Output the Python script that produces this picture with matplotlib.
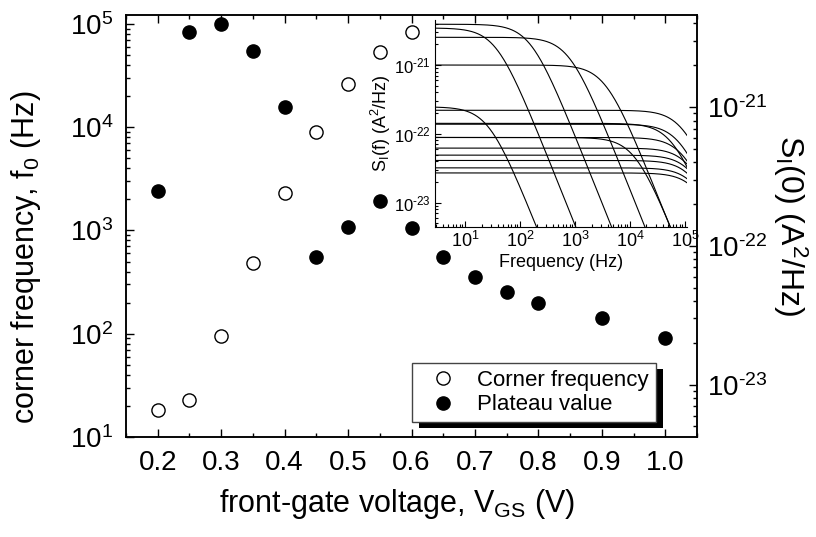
import matplotlib
matplotlib.use('Agg')
import matplotlib.pyplot as plt
from matplotlib.patches import Rectangle
from matplotlib.transforms import IdentityTransform
from matplotlib.ticker import LogLocator, MultipleLocator, NullFormatter, FuncFormatter
import numpy as np

plt.rcParams['font.family'] = ['Liberation Sans', 'DejaVu Sans']
plt.rcParams['mathtext.fontset'] = 'custom'
plt.rcParams['mathtext.rm'] = 'Liberation Sans'
plt.rcParams['mathtext.it'] = 'Liberation Sans'
plt.rcParams['mathtext.default'] = 'regular'

# main plot data: corner frequency (left axis) and plateau value (right axis)
vgs_corner = [0.2, 0.25, 0.3, 0.35, 0.4, 0.45, 0.5, 0.55, 0.6]
corner_freq = [18.3, 22.9, 95, 480, 2300, 8900, 26000, 53000, 84000]

vgs_plateau = [0.2, 0.25, 0.3, 0.35, 0.4, 0.45, 0.5, 0.55, 0.6, 0.65,
               0.7, 0.75, 0.8, 0.9, 1.0]
plateau = [2.49e-22, 3.47e-21, 3.95e-21, 2.53e-21, 1.0e-21, 8.3e-23,
           1.37e-22, 2.11e-22, 1.35e-22, 8.3e-23, 5.98e-23, 4.67e-23,
           3.89e-23, 3.03e-23, 2.18e-23]

# inset: Lorentzian fits, plateau S(0) and corner frequency of each curve
inset_s0 = [2.47e-22, 3.46e-21, 3.92e-21, 2.53e-21, 1.0e-21, 8.85e-23,
            1.42e-22, 2.2e-22, 1.38e-22, 8.85e-23, 6.2e-23, 4.9e-23,
            4.1e-23, 3.2e-23, 2.7e-23]
inset_f0 = [27, 37, 156, 785, 3600, 12500,
            60000, 95000, 85000, 100000, 130000, 145000,
            150000, 165000, 175000]


def pow10(v, pos):
    e = int(round(np.log10(v)))
    if e < 0:
        return '$10^{\u2010%d}$' % (-e)
    return '$10^{%d}$' % e


fig = plt.figure(figsize=(8.16, 5.37), dpi=100)
ax = fig.add_axes([0.1544, 0.1862, 0.6998, 0.7858])
ax2 = ax.twinx()

ms = 9.5
h1, = ax.plot(vgs_corner, corner_freq, 'o', ms=ms, mfc='white', mec='black',
              mew=1.0, label='Corner frequency', zorder=3)
h2, = ax2.plot(vgs_plateau, plateau, 'o', ms=ms, mfc='black', mec='black',
               label='Plateau value', zorder=3)

ax.set_xlim(0.15, 1.05)
ax.set_yscale('log')
ax.set_ylim(10, 1.22e5)
ax2.set_yscale('log')
ax2.set_ylim(4.2e-24, 4.6e-21)

xt = np.round(np.arange(0.2, 1.01, 0.1), 1)
ax.set_xticks(xt)
ax.set_xticklabels(['%.1f' % v for v in xt])
ax.xaxis.set_minor_locator(MultipleLocator(0.05))

ax.set_yticks([1e1, 1e2, 1e3, 1e4, 1e5])
ax2.set_yticks([1e-23, 1e-22, 1e-21])
for a in (ax, ax2):
    a.yaxis.set_major_formatter(FuncFormatter(pow10))
    a.yaxis.set_minor_locator(LogLocator(base=10, subs=np.arange(2, 10), numticks=20))
    a.yaxis.set_minor_formatter(NullFormatter())
    for s in a.spines.values():
        s.set_linewidth(1.1)

ax.tick_params(which='both', direction='in', top=True, right=False,
               labelsize=20, width=1.0, pad=9)
ax.tick_params(which='major', length=6)
ax.tick_params(which='minor', length=3)
ax2.tick_params(which='both', direction='in', labelsize=20, width=1.0, pad=7)
ax2.tick_params(which='major', length=6)
ax2.tick_params(which='minor', length=3)

ax.set_xlabel('front-gate voltage, V$_{GS}$ (V)', fontsize=22)
ax.xaxis.set_label_coords(0.4746, -0.118)
ax.set_ylabel('corner frequency, f$_0$ (Hz)', fontsize=22)
ax.yaxis.set_label_coords(-0.145, 0.425)
ax2.set_ylabel('S$_I$(0) (A$^2$/Hz)', fontsize=23, rotation=270, labelpad=30)

leg = ax2.legend(handles=[h1, h2], loc='lower left',
                 bbox_to_anchor=(412 / 816, 1 - 422 / 537),
                 bbox_transform=fig.transFigure, fontsize=16,
                 borderpad=0.3, handlelength=2.2, handletextpad=0.44,
                 labelspacing=0.15, borderaxespad=0, fancybox=False,
                 framealpha=1, edgecolor='#444444')
leg.get_frame().set_linewidth(1.0)

# inset with the measured spectra
axi = fig.add_axes([0.5331, 0.5773, 0.3088, 0.3855], zorder=5)
freq = np.logspace(np.log10(2.85), np.log10(1.09e5), 400)
for s0, f0 in zip(inset_s0, inset_f0):
    axi.plot(freq, s0 / (1 + (freq / f0) ** 2), color='black', lw=0.8)
axi.set_xscale('log')
axi.set_yscale('log')
axi.set_xlim(2.85, 1.09e5)
axi.set_ylim(4.42e-24, 4.52e-21)
axi.spines['top'].set_visible(False)
axi.spines['right'].set_visible(False)
axi.patch.set_alpha(0)
axi.set_xticks([1e1, 1e2, 1e3, 1e4, 1e5])
axi.set_yticks([1e-23, 1e-22, 1e-21])
axi.xaxis.set_major_formatter(FuncFormatter(pow10))
axi.yaxis.set_major_formatter(FuncFormatter(pow10))
axi.xaxis.set_minor_locator(LogLocator(base=10, subs=np.arange(2, 10), numticks=10))
axi.xaxis.set_minor_formatter(NullFormatter())
axi.yaxis.set_minor_locator(LogLocator(base=10, subs=np.arange(2, 10), numticks=10))
axi.yaxis.set_minor_formatter(NullFormatter())
axi.tick_params(which='both', direction='in', width=0.8, pad=3)
axi.tick_params(which='major', length=4)
axi.tick_params(which='minor', length=2)
axi.tick_params(axis='x', labelsize=13)
axi.tick_params(axis='y', labelsize=12)
axi.set_xlabel('Frequency (Hz)', fontsize=13, labelpad=2)
axi.set_ylabel('S$_I$(f) (A$^2$/Hz)', fontsize=13, labelpad=1)

# legend shadow (offset black box behind the frame)
fig.canvas.draw()
bb = leg.get_window_extent()
shadow = Rectangle((bb.x0 + 7, bb.y0 - 6), bb.width, bb.height,
                   transform=IdentityTransform(), facecolor='black',
                   edgecolor='none', zorder=4.5, clip_on=False)
ax2.add_artist(shadow)

fig.savefig('out.png', dpi=100)
